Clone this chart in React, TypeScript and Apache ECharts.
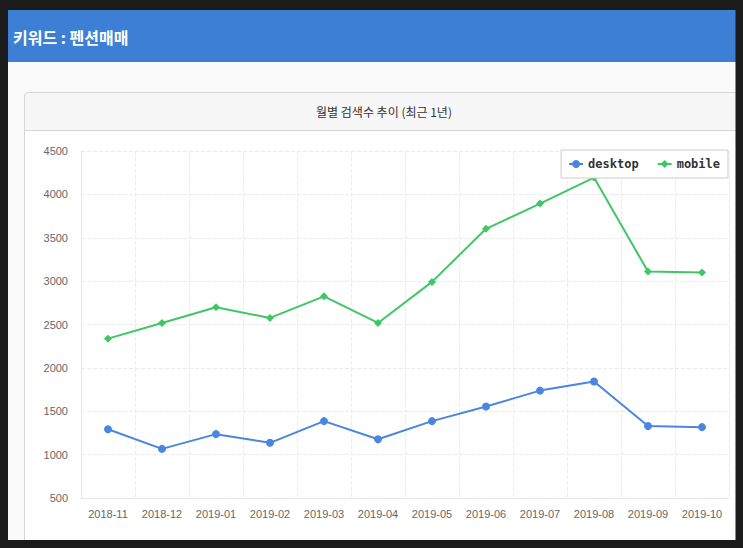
import React, { useEffect, useRef } from "react";
import * as echarts from "echarts";

const categories = [
  "2018-11", "2018-12", "2019-01", "2019-02", "2019-03", "2019-04",
  "2019-05", "2019-06", "2019-07", "2019-08", "2019-09", "2019-10",
];
const desktopValues = [1292, 1066, 1236, 1136, 1386, 1177, 1386, 1554, 1738, 1842, 1329, 1317];
const mobileValues = [2337, 2518, 2698, 2576, 2825, 2518, 2991, 3603, 3894, 4194, 3110, 3100];
const seriesNames = ["desktop", "mobile"];
const pageTitle = "키워드 : 펜션매매";
const panelTitle = "월별 검색수 추이 (최근 1년)";

export default function App() {
  const ref = useRef<HTMLDivElement>(null);
  useEffect(() => {
    if (!ref.current) return;
    const chart = echarts.init(ref.current, undefined, { renderer: "svg" });
    chart.setOption({
      animation: false,
      backgroundColor: "#1b1b1b",
      graphic: {
        elements: [
          { type: "rect", z: -10, shape: { x: 8, y: 10, width: 728, height: 530 }, style: { fill: "#fafafa" } },
          { type: "rect", z: -9, shape: { x: 8, y: 10, width: 728, height: 52 }, style: { fill: "#3e7fd6" } },
          {
            type: "text", z: -8, x: 13, y: 37,
            style: { text: pageTitle, fill: "#ffffff", font: "bold 16px 'Noto Sans CJK KR', sans-serif", textVerticalAlign: "middle" },
          },
          {
            type: "rect", z: -9,
            shape: { x: 24.5, y: 92.5, width: 730, height: 470, r: [4, 4, 0, 0] },
            style: { fill: "#ffffff", stroke: "#d6d6d6", lineWidth: 1 },
          },
          {
            type: "rect", z: -8,
            shape: { x: 24.5, y: 92.5, width: 730, height: 38, r: [4, 4, 0, 0] },
            style: { fill: "#f7f7f7", stroke: "#d6d6d6", lineWidth: 1 },
          },
          {
            type: "text", z: -7, x: 384, y: 111,
            style: { text: panelTitle, fill: "#333333", font: "12px 'Noto Sans CJK KR', sans-serif", textAlign: "center", textVerticalAlign: "middle" },
          },
          { type: "rect", z: 100, shape: { x: 735.5, y: 0, width: 8, height: 548 }, style: { fill: "#1b1b1b" } },
          { type: "rect", z: 100, shape: { x: 0, y: 540, width: 743, height: 8 }, style: { fill: "#1b1b1b" } },
        ],
      },
      legend: {
        data: seriesNames,
        top: 150,
        right: 15,
        backgroundColor: "#ffffff",
        borderColor: "#cccccc",
        borderWidth: 1,
        borderRadius: 0,
        padding: [8, 8, 8, 7],
        itemGap: 18,
        itemWidth: 14,
        itemHeight: 10,
        textStyle: { color: "#333333", fontSize: 12, fontWeight: "bold", fontFamily: "'DejaVu Sans Mono', monospace" },
      },
      grid: { left: 81, top: 151, right: 14, bottom: 50, containLabel: false },
      xAxis: {
        type: "category",
        data: categories,
        boundaryGap: true,
        axisLine: { show: true, lineStyle: { color: "#e6e6e6" } },
        axisTick: { show: false },
        axisLabel: { color: "#666666", fontSize: 11, margin: 10, fontFamily: "'Liberation Sans', sans-serif" },
        splitLine: { show: true, lineStyle: { color: "#ebebeb", type: "dashed" } },
      },
      yAxis: {
        type: "value",
        min: 500,
        max: 4500,
        interval: 500,
        axisLine: { show: true, lineStyle: { color: "#e6e6e6" } },
        axisTick: { show: false },
        axisLabel: {
          color: "#666666", fontSize: 11, margin: 13, fontFamily: "'Liberation Sans', sans-serif",
          formatter: (v: number) => String(v),
        },
        splitLine: { show: true, lineStyle: { color: "#ebebeb", type: "dashed" } },
      },
      series: [
        {
          name: seriesNames[0],
          type: "line",
          data: desktopValues,
          symbol: "circle",
          symbolSize: 8,
          itemStyle: { color: "#4a86e0" },
          lineStyle: { width: 2, color: "#4a86e0" },
        },
        {
          name: seriesNames[1],
          type: "line",
          data: mobileValues,
          symbol: "diamond",
          symbolSize: 8,
          itemStyle: { color: "#3fc765" },
          lineStyle: { width: 2, color: "#3fc765" },
        },
      ],
    });
    return () => chart.dispose();
  }, []);
  return (
    <div
      ref={ref}
      style={{ position: "fixed", left: 0, top: 0, width: 743, height: 548 }}
    />
  );
}
